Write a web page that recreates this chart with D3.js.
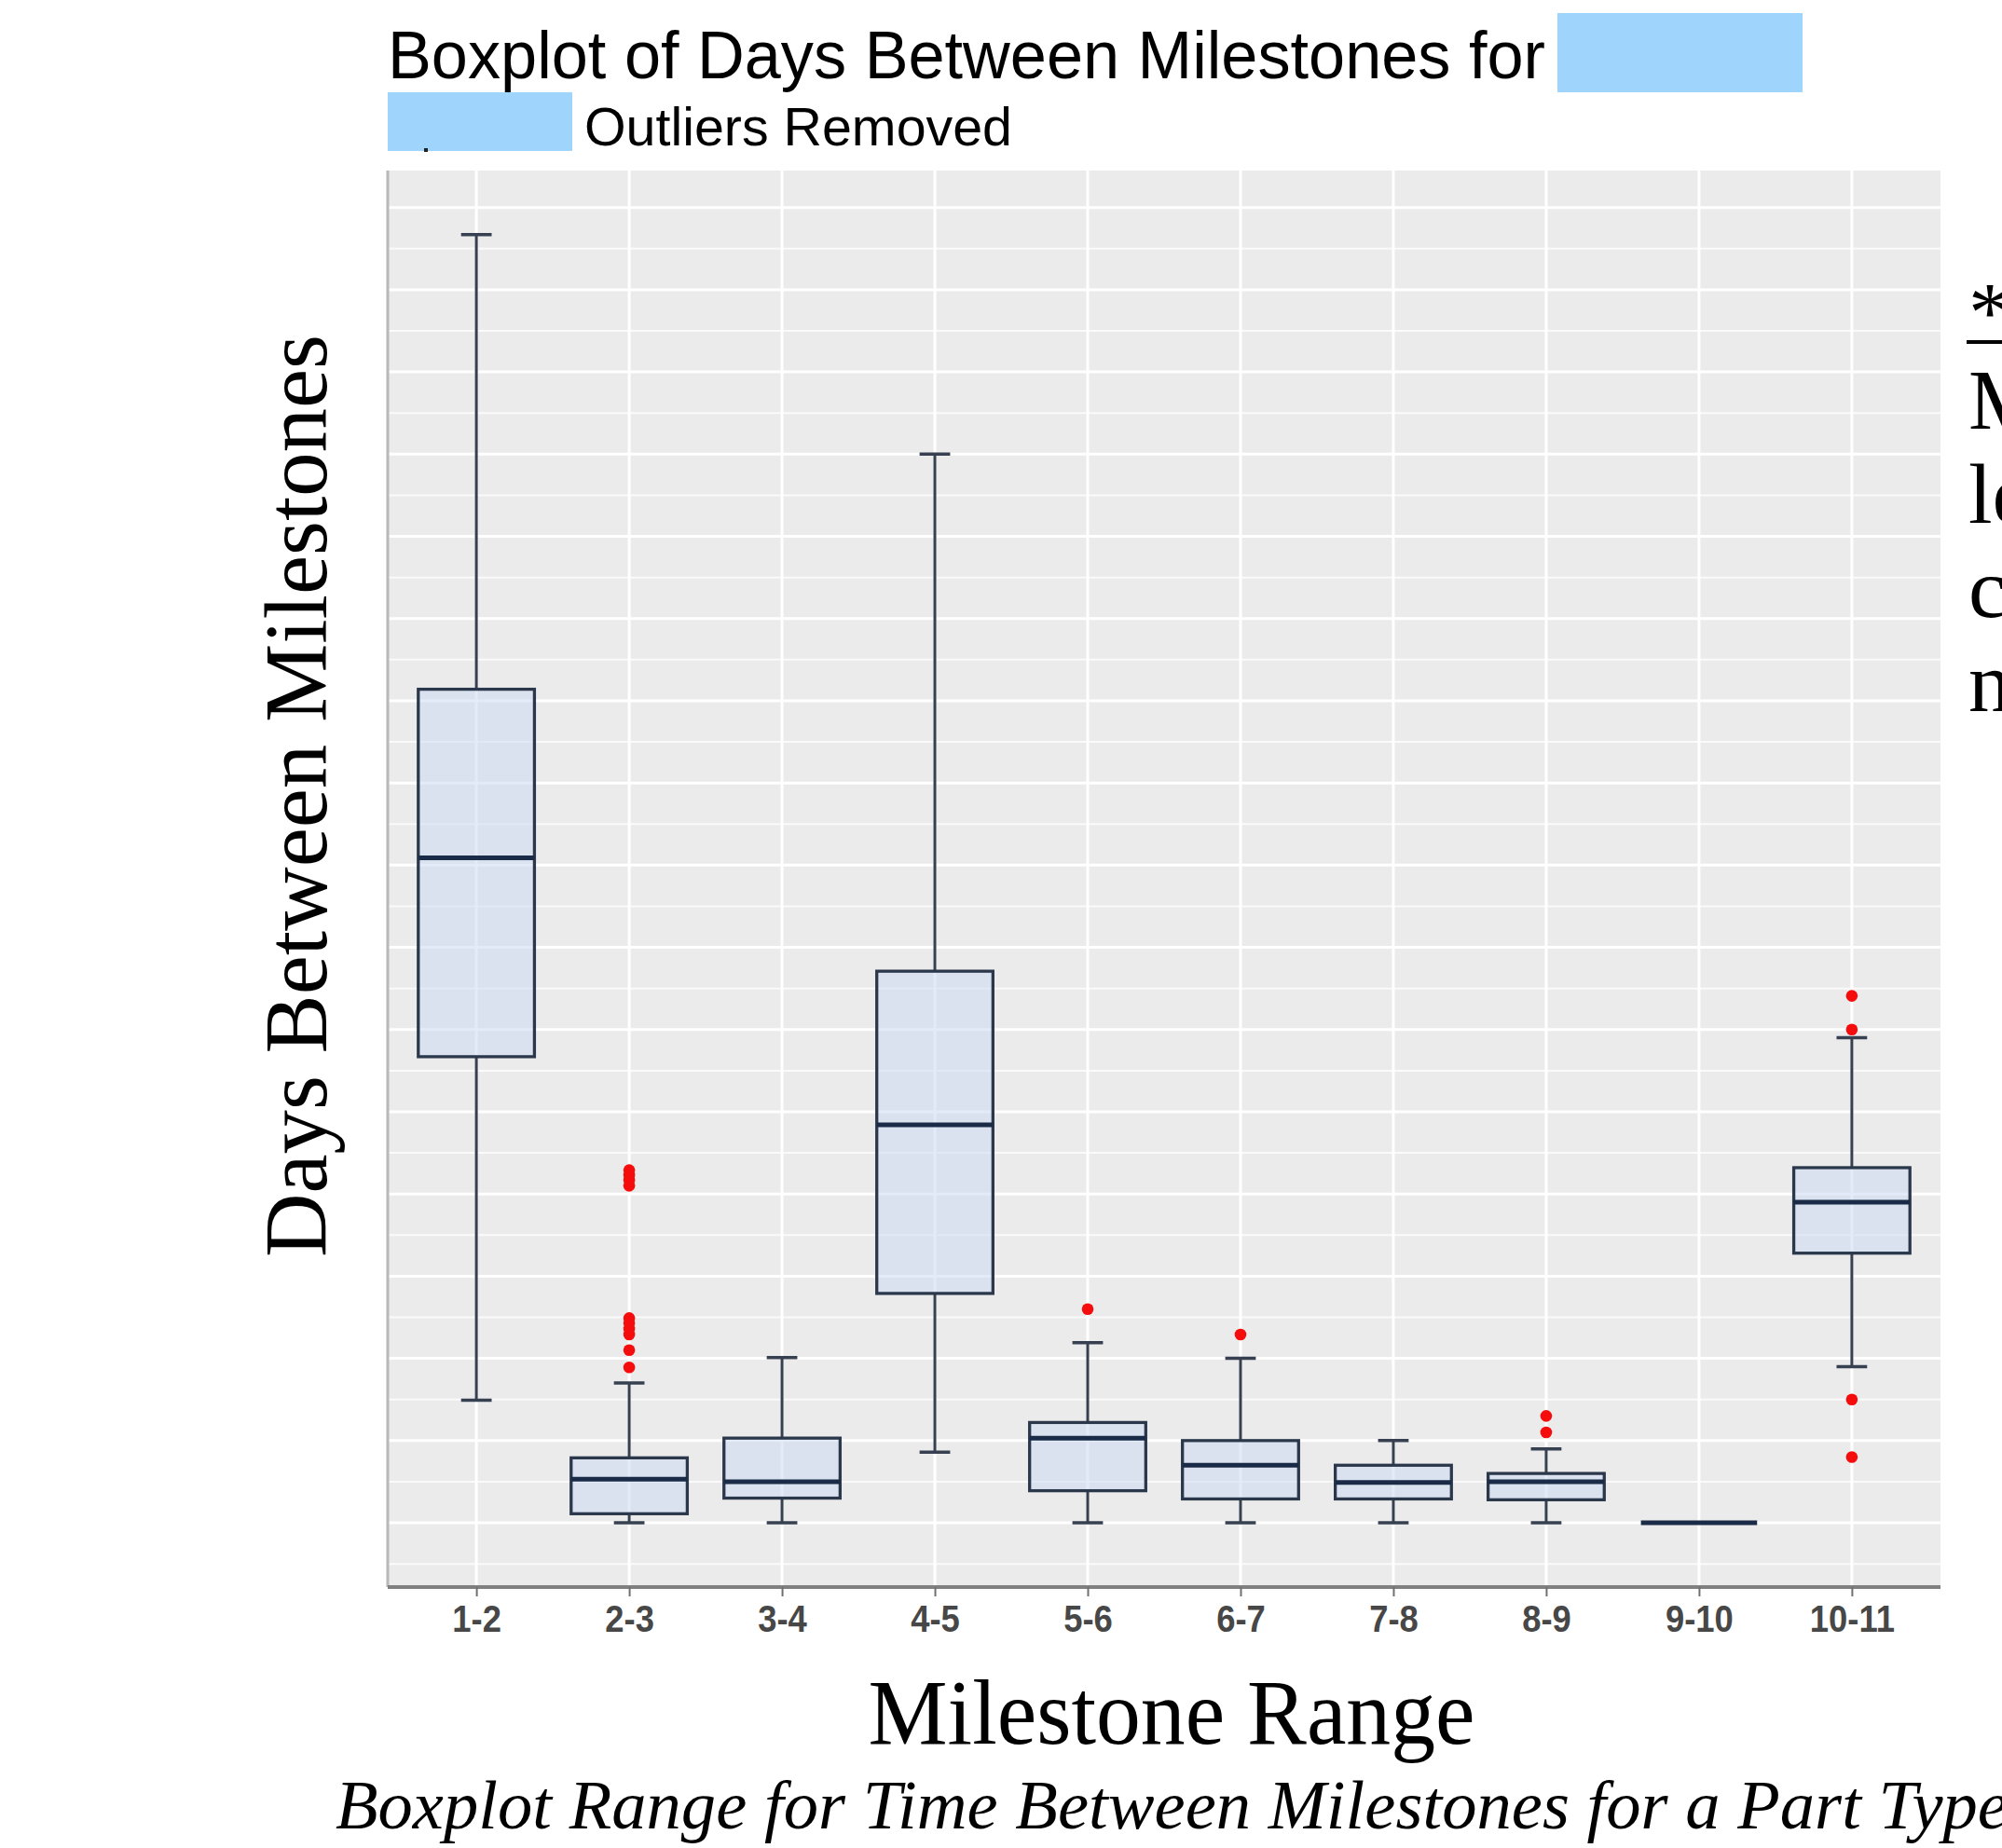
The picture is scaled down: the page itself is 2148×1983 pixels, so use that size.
<!DOCTYPE html>
<html>
<head>
<meta charset="utf-8">
<script src="https://cdn.jsdelivr.net/npm/d3@7"></script>
<style>
  html, body { margin: 0; padding: 0; background: #fff; }
  svg { display: block; }
</style>
</head>
<body>
<div class="chart-box"></div>
<script>
// chart data (days)
const categories = ["1-2", "2-3", "3-4", "4-5", "5-6", "6-7", "7-8", "8-9", "9-10", "10-11"];
const whiskerLow  = [14.9, 0,   0,    8.6,  0,    0,    0,   0,   0, 19.0];
const q1          = [56.7, 1.1, 3.0,  27.9, 3.9,  2.9,  2.9, 2.8, 0, 32.8];
const medians     = [80.9, 5.3, 5.0,  48.4, 10.3, 7.0,  4.9, 5.0, 0, 39.0];
const q3          = [101.4, 7.9, 10.3, 67.1, 12.2, 10.0, 7.0, 6.0, 0, 43.2];
const whiskerHigh = [156.7, 17.0, 20.1, 130.0, 21.9, 20.0, 10.0, 9.0, 0, 59.0];
const outliers = [
    [],
    [42.9, 42.3, 41.7, 41.0, 24.9, 24.3, 23.6, 22.9, 21.0, 18.9],
    [],
    [],
    [26.0],
    [22.9],
    [],
    [13.0, 11.0],
    [],
    [64.1, 60.0, 15.0, 8.0]
];
const majorTicks = d3.range(0, 161, 10);
const minorTicks = d3.range(-5, 160, 10);

const W = 2148, H = 1983;
const panel = { left: 416, right: 2082, top: 183, bottom: 1703 };

const svg = d3.select(".chart-box").append("svg")
    .attr("width", W)
    .attr("height", H);

svg.append("rect").attr("width", W).attr("height", H).attr("fill", "#fff");

//scales
const xScale = d3.scalePoint()
    .domain(categories)
    .range([panel.left, panel.right])
    .padding(0.58);
const yScale = d3.scaleLinear()
    .domain([-7.82, 164.5])
    .range([panel.bottom, panel.top]);

const step = xScale.step();
const boxW = step * 0.76;
const capW = step * 0.2;

//panel + grid
svg.append("rect")
    .attr("x", panel.left)
    .attr("y", panel.top)
    .attr("width", panel.right - panel.left)
    .attr("height", panel.bottom - panel.top)
    .attr("fill", "#ebebeb");

const grid = svg.append("g");
grid.selectAll(".minor")
    .data(minorTicks)
    .enter().append("line")
    .attr("x1", panel.left).attr("x2", panel.right)
    .attr("y1", d => yScale(d)).attr("y2", d => yScale(d))
    .attr("stroke", "#fafafa")
    .attr("stroke-width", 2);
grid.selectAll(".major")
    .data(majorTicks)
    .enter().append("line")
    .attr("x1", panel.left).attr("x2", panel.right)
    .attr("y1", d => yScale(d)).attr("y2", d => yScale(d))
    .attr("stroke", "#fff")
    .attr("stroke-width", 3);
grid.selectAll(".vgrid")
    .data(categories)
    .enter().append("line")
    .attr("x1", d => xScale(d)).attr("x2", d => xScale(d))
    .attr("y1", panel.top).attr("y2", panel.bottom)
    .attr("stroke", "#fff")
    .attr("stroke-width", 3);

//boxes
const rows = categories.map((c, i) => ({
    cat: c, lo: whiskerLow[i], q1: q1[i], med: medians[i], q3: q3[i], hi: whiskerHigh[i], out: outliers[i]
}));

const boxes = svg.append("g").selectAll("g")
    .data(rows)
    .enter().append("g");

boxes.append("line")
    .attr("x1", d => xScale(d.cat)).attr("x2", d => xScale(d.cat))
    .attr("y1", d => yScale(d.q3)).attr("y2", d => yScale(d.hi))
    .attr("stroke", "#364050").attr("stroke-width", 3);
boxes.append("line")
    .attr("x1", d => xScale(d.cat)).attr("x2", d => xScale(d.cat))
    .attr("y1", d => yScale(d.q1)).attr("y2", d => yScale(d.lo))
    .attr("stroke", "#364050").attr("stroke-width", 3);
["hi", "lo"].forEach(k => {
    boxes.append("line")
        .attr("x1", d => xScale(d.cat) - capW / 2).attr("x2", d => xScale(d.cat) + capW / 2)
        .attr("y1", d => yScale(d[k])).attr("y2", d => yScale(d[k]))
        .attr("stroke", "#364050").attr("stroke-width", 3.5);
});
boxes.append("rect")
    .attr("x", d => xScale(d.cat) - boxW / 2)
    .attr("y", d => yScale(d.q3))
    .attr("width", boxW)
    .attr("height", d => yScale(d.q1) - yScale(d.q3))
    .attr("fill", "rgba(204,219,244,0.55)")
    .attr("stroke", "#2b384b")
    .attr("stroke-width", 3.3);
boxes.append("line")
    .attr("x1", d => xScale(d.cat) - boxW / 2).attr("x2", d => xScale(d.cat) + boxW / 2)
    .attr("y1", d => yScale(d.med)).attr("y2", d => yScale(d.med))
    .attr("stroke", "#1a2b47").attr("stroke-width", 5);

boxes.selectAll("circle")
    .data(d => d.out.map(v => ({ cat: d.cat, v: v })))
    .enter().append("circle")
    .attr("cx", d => xScale(d.cat))
    .attr("cy", d => yScale(d.v))
    .attr("r", 6.3)
    .attr("fill", "#f50d0d");

//axes
svg.append("line")
    .attr("x1", panel.left).attr("x2", panel.left)
    .attr("y1", panel.top).attr("y2", panel.bottom)
    .attr("stroke", "#b8b8b8").attr("stroke-width", 3);

const xAxis = svg.append("g")
    .attr("transform", "translate(0," + panel.bottom + ")")
    .call(d3.axisBottom(xScale).tickSize(10).tickPadding(10));
xAxis.select(".domain")
    .attr("d", "M" + panel.left + ",0H" + panel.right)
    .attr("stroke", "#808080").attr("stroke-width", 4);
xAxis.selectAll(".tick line").attr("stroke", "#707070").attr("stroke-width", 2);
xAxis.selectAll(".tick text")
    .attr("fill", "#474747")
    .attr("font-family", "'Liberation Sans', Arial, sans-serif")
    .attr("font-weight", "bold")
    .attr("font-size", 40)
    .attr("transform", "scale(0.91,1)");

//titles
const sans = "'Liberation Sans', Arial, sans-serif";
const serif = "'Liberation Serif', 'Times New Roman', serif";

svg.append("text")
    .attr("x", 416).attr("y", 84)
    .attr("font-family", sans).attr("font-size", 73)
    .attr("textLength", 1242).attr("lengthAdjust", "spacingAndGlyphs")
    .text("Boxplot of Days Between Milestones for");
svg.append("rect")
    .attr("x", 1671).attr("y", 14).attr("width", 263).attr("height", 85)
    .attr("fill", "#9fd4fc");
svg.append("rect")
    .attr("x", 416).attr("y", 99).attr("width", 198).attr("height", 63)
    .attr("fill", "#9fd4fc");
svg.append("rect")
    .attr("x", 455).attr("y", 159).attr("width", 4).attr("height", 4)
    .attr("fill", "#222");
svg.append("text")
    .attr("x", 627).attr("y", 156)
    .attr("font-family", sans).attr("font-size", 58)
    .attr("textLength", 459).attr("lengthAdjust", "spacingAndGlyphs")
    .text("Outliers Removed");

svg.append("text")
    .attr("transform", "translate(350," + 854 + ") rotate(-90)")
    .attr("text-anchor", "middle")
    .attr("font-family", serif).attr("font-size", 96)
    .attr("textLength", 990).attr("lengthAdjust", "spacingAndGlyphs")
    .text("Days Between Milestones");

svg.append("text")
    .attr("x", 1257).attr("y", 1871)
    .attr("text-anchor", "middle")
    .attr("font-family", serif).attr("font-size", 100)
    .attr("textLength", 651).attr("lengthAdjust", "spacingAndGlyphs")
    .text("Milestone Range");

svg.append("text")
    .attr("x", 360).attr("y", 1962)
    .attr("font-family", serif).attr("font-style", "italic").attr("font-size", 73)
    .attr("textLength", 1795).attr("lengthAdjust", "spacingAndGlyphs")
    .text("Boxplot Range for Time Between Milestones for a Part Type");

//cut-off side note (runs off the page in the original)
svg.append("text")
    .attr("x", 2112).attr("y", 366)
    .attr("font-family", serif).attr("font-size", 92)
    .text("*");
svg.append("line")
    .attr("x1", 2110).attr("x2", W)
    .attr("y1", 367).attr("y2", 367)
    .attr("stroke", "#000").attr("stroke-width", 4);
const noteLines = ["M", "le", "c", "n"];
svg.selectAll(".note")
    .data(noteLines)
    .enter().append("text")
    .attr("x", 2112)
    .attr("y", (d, i) => 460 + i * 101)
    .attr("font-family", serif).attr("font-size", 92)
    .text(d => d);
</script>
</body>
</html>
